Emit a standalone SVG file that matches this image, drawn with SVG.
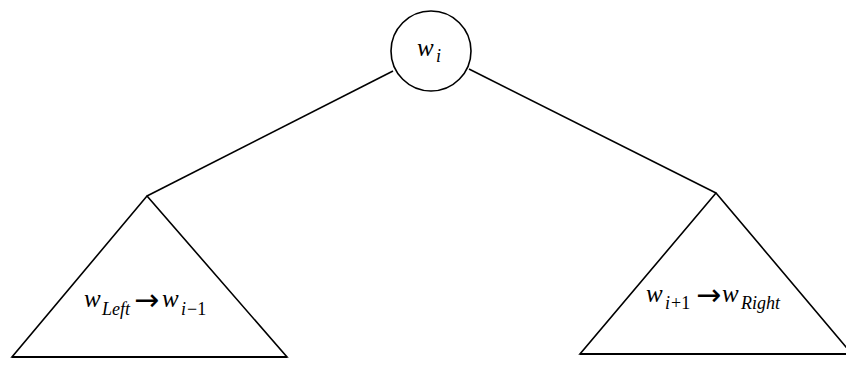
<svg xmlns="http://www.w3.org/2000/svg" width="846" height="365" viewBox="0 0 846 365">
<style>
.shape{fill:none;stroke:#000;stroke-width:1.6;stroke-linejoin:miter}
.base{stroke-width:2.2}
.lbl{font-family:"Liberation Serif","Times New Roman",serif;font-style:italic;fill:#000}
.main{font-size:25px}
.sub{font-size:18px}
.arr{font-family:"DejaVu Sans",sans-serif;font-style:normal;font-size:30px}
</style>
<rect width="846" height="365" fill="#fff"/>
<g id="connectors">
<line class="shape" x1="393" y1="71" x2="147" y2="196"/>
<line class="shape" x1="469" y1="69" x2="716" y2="193"/>
</g>
<g id="node-wi">
<circle class="shape" cx="431" cy="51" r="40"/>
<text class="lbl main" x="417" y="56">w<tspan class="sub" x="436" y="62">i</tspan></text>
</g>
<g id="node-left">
<path class="shape" d="M147,196 L12,357 L287,357 Z"/>
<line class="shape base" x1="12" y1="357" x2="287" y2="357"/>
<text class="lbl main" x="84" y="307">w<tspan class="sub" x="102" y="315">Left</tspan><tspan class="arr" x="134" y="310">→</tspan><tspan x="162" y="307">w</tspan><tspan class="sub" x="181" y="315">i</tspan><tspan class="sub" x="187" y="315" font-style="normal">−1</tspan></text>
</g>
<g id="node-right">
<path class="shape" d="M716,193 L580,354 L852,354 Z"/>
<line class="shape base" x1="580" y1="354" x2="852" y2="354"/>
<text class="lbl main" x="646" y="302">w<tspan class="sub" x="665" y="309">i</tspan><tspan class="sub" x="671" y="309" font-style="normal">+1</tspan><tspan class="arr" x="696" y="305">→</tspan><tspan x="722" y="302">w</tspan><tspan class="sub" x="741" y="309">Right</tspan></text>
</g>
</svg>
